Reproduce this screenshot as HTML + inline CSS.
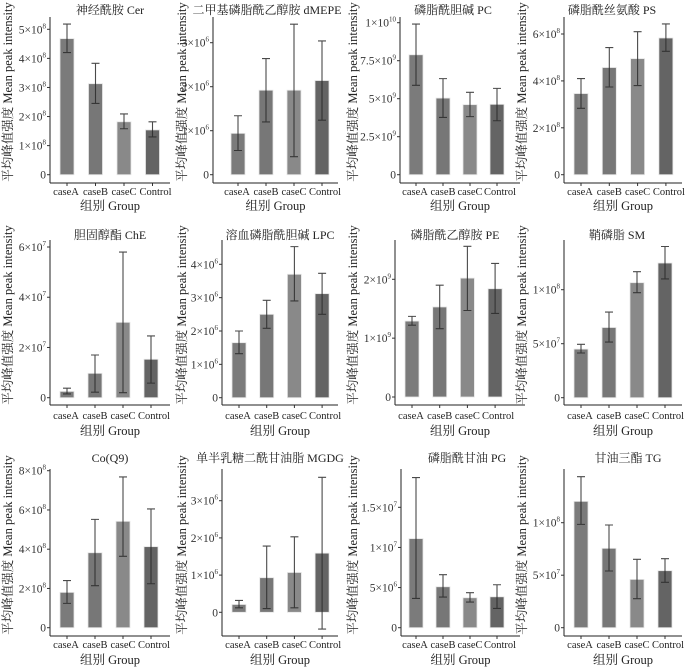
<!DOCTYPE html>
<html><head><meta charset="utf-8">
<style>
html,body{margin:0;padding:0;background:#fff;}
svg{display:block;}
svg text{font-family:"Liberation Serif","Noto Serif CJK SC","Noto Sans CJK SC",serif;}
</style></head>
<body>
<svg id="fig" width="700" height="667" viewBox="0 0 700 667" xmlns="http://www.w3.org/2000/svg"></svg>
<script>
const categories = ["caseA","caseB","caseC","Control"];
const titles = ["神经酰胺 Cer","二甲基磷脂酰乙醇胺 dMEPE","磷脂酰胆碱 PC","磷脂酰丝氨酸 PS",
 "胆固醇酯 ChE","溶血磷脂酰胆碱 LPC","磷脂酰乙醇胺 PE","鞘磷脂 SM",
 "Co(Q9)","单半乳糖二酰甘油脂 MGDG","磷脂酰甘油 PG","甘油三酯 TG"];
const meanCer=[4.68e8,3.13e8,1.82e8,1.54e8], loCer=[4.2e8,2.45e8,1.58e8,1.3e8], hiCer=[5.18e8,3.83e8,2.09e8,1.82e8];
const meanDMEPE=[0.94e6,1.92e6,1.92e6,2.14e6], loDMEPE=[0.55e6,1.2e6,0.41e6,1.24e6], hiDMEPE=[1.34e6,2.64e6,3.42e6,3.04e6];
const meanPC=[7.89e9,5.04e9,4.61e9,4.63e9], loPC=[5.88e9,3.77e9,3.82e9,3.55e9], hiPC=[9.91e9,6.32e9,5.42e9,5.68e9];
const meanPS=[3.46e8,4.57e8,4.95e8,5.83e8], loPS=[2.83e8,3.74e8,3.8e8,5.26e8], hiPS=[4.1e8,5.42e8,6.1e8,6.43e8];
const meanChE=[0.25e7,0.97e7,3.0e7,1.53e7], loChE=[0.15e7,0.22e7,0.2e7,0.58e7], hiChE=[0.38e7,1.7e7,5.8e7,2.46e7];
const meanLPC=[1.65e6,2.5e6,3.7e6,3.12e6], loLPC=[1.32e6,2.08e6,2.9e6,2.5e6], hiLPC=[2.0e6,2.92e6,4.53e6,3.73e6];
const meanPE=[1.29e9,1.53e9,2.02e9,1.84e9], loPE=[1.22e9,1.16e9,1.47e9,1.42e9], hiPE=[1.37e9,1.9e9,2.56e9,2.27e9];
const meanSM=[4.5e7,6.5e7,10.65e7,12.47e7], loSM=[4.14e7,5.15e7,9.72e7,11.0e7], hiSM=[4.94e7,7.93e7,11.67e7,14.0e7];
const meanCoQ9=[1.8e8,3.82e8,5.42e8,4.13e8], loCoQ9=[1.24e8,2.14e8,3.64e8,2.24e8], hiCoQ9=[2.4e8,5.52e8,7.68e8,6.05e8];
const meanMGDG=[0.21e6,0.93e6,1.07e6,1.59e6], loMGDG=[0.12e6,0.1e6,0.12e6,-0.45e6], hiMGDG=[0.32e6,1.78e6,2.03e6,3.63e6];
const meanPG=[11.1e6,5.1e6,3.73e6,3.85e6], loPG=[3.65e6,3.82e6,3.19e6,2.4e6], hiPG=[18.7e6,6.6e6,4.36e6,5.35e6];
const meanTG=[12.03e7,7.56e7,4.6e7,5.43e7], loTG=[9.84e7,5.4e7,2.76e7,4.32e7], hiTG=[14.38e7,9.78e7,6.51e7,6.57e7];
const ticksCer=[0,1e8,2e8,3e8,4e8,5e8], ticksDMEPE=[0,1e6,2e6,3e6], ticksPC=[0,2.5e9,5e9,7.5e9,1e10], ticksPS=[0,2e8,4e8,6e8];
const ticksChE=[0,2e7,4e7,6e7], ticksLPC=[0,1e6,2e6,3e6,4e6], ticksPE=[0,1e9,2e9], ticksSM=[0,5e7,1e8];
const ticksCoQ9=[0,2e8,4e8,6e8,8e8], ticksMGDG=[0,1e6,2e6,3e6], ticksPG=[0,5e6,1e7,1.5e7], ticksTG=[0,5e7,1e8];

const means=[meanCer,meanDMEPE,meanPC,meanPS,meanChE,meanLPC,meanPE,meanSM,meanCoQ9,meanMGDG,meanPG,meanTG];
const los=[loCer,loDMEPE,loPC,loPS,loChE,loLPC,loPE,loSM,loCoQ9,loMGDG,loPG,loTG];
const his=[hiCer,hiDMEPE,hiPC,hiPS,hiChE,hiLPC,hiPE,hiSM,hiCoQ9,hiMGDG,hiPG,hiTG];
const ticks=[ticksCer,ticksDMEPE,ticksPC,ticksPS,ticksChE,ticksLPC,ticksPE,ticksSM,ticksCoQ9,ticksMGDG,ticksPG,ticksTG];

const layout=[
 {ax:50,right:170,c0:67,sp:28.5,z:174.7,rv:5e8,rp:29.3,yt:8,tc:110},
 {ax:213,right:338,c0:238,sp:28,z:174.7,rv:3e6,rp:42.7,yt:182,tc:267},
 {ax:400,right:520,c0:416,sp:27,z:174.7,rv:1e10,rp:22.7,yt:353,tc:453},
 {ax:564,right:682,c0:581,sp:28.3,z:174.7,rv:6e8,rp:34,yt:522,tc:612},
 {ax:50,right:170,c0:67,sp:28,z:397.7,rv:6e7,rp:247,yt:8,tc:110},
 {ax:222,right:338,c0:239,sp:27.7,z:397.7,rv:4e6,rp:264.3,yt:182,tc:280},
 {ax:395,right:525,c0:412,sp:27.7,z:397,rv:2e9,rp:279.3,yt:353,tc:455},
 {ax:564,right:682,c0:581,sp:28,z:397.7,rv:1e8,rp:289.7,yt:522,tc:617},
 {ax:50,right:170,c0:67,sp:28,z:627.7,rv:8e8,rp:470.7,yt:8,tc:110},
 {ax:222,right:338,c0:239,sp:27.7,z:612.3,rv:3e6,rp:500.7,yt:182,tc:270},
 {ax:401,right:520,c0:416,sp:27,z:627.7,rv:1.5e7,rp:507.3,yt:353,tc:467},
 {ax:564,right:682,c0:581,sp:28,z:627.7,rv:1e8,rp:522.7,yt:522,tc:628}
];
const rows=[{top:17,bot:183,lab:195,xt:210,tt:14,yc:92},{top:240,bot:405,lab:419,xt:435,tt:239,yc:315},{top:469,bot:636,lab:648,xt:664,tt:462,yc:545}];
const labShift=[-1,0,0,3];
const fills=["#7b7b7b","#777777","#898989","#646464"];
const NS="http://www.w3.org/2000/svg";
const svg=document.getElementById('fig');
function mk(tag,attrs,parent){const e=document.createElementNS(NS,tag);for(const k in attrs)e.setAttribute(k,attrs[k]);(parent||svg).appendChild(e);return e;}
function fmt(v){if(v===0)return ["0",""];const e=Math.floor(Math.log10(v)+1e-9);let m=+(v/Math.pow(10,e)).toFixed(2);return [m+"×10",String(e)];}

for(let p=0;p<12;p++){
 const L=layout[p],R=rows[Math.floor(p/4)];
 const k=(L.z-L.rp)/L.rv;
 const yS=v=>L.z-v*k;
 const g=mk('g',{});
 
 
 const t=mk('text',{x:L.tc,y:R.tt,'text-anchor':'middle','font-size':12,fill:'#222'},g);
 t.textContent=titles[p];
 
 
 for(let i=0;i<4;i++){
  const cx=L.c0+i*L.sp, m=means[p][i];
  const r=mk('rect',{x:cx-7,y:Math.min(yS(m),yS(0)),width:14,height:Math.abs(yS(0)-yS(m)),fill:fills[i],stroke:'#e6e6e6','stroke-width':0.8},g);
  
  
  const eb=mk('path',{d:`M${cx-4},${yS(his[p][i])}H${cx+4}M${cx},${yS(his[p][i])}V${yS(los[p][i])}M${cx-4},${yS(los[p][i])}H${cx+4}`,stroke:'#2a2a2a','stroke-width':1.1,fill:'none','stroke-opacity':0.85},g);
  
  
  mk('line',{x1:cx,x2:cx,y1:R.bot,y2:R.bot+3,stroke:'#333'},g);
  const xl=mk('text',{x:cx+labShift[i],y:R.lab,'text-anchor':'middle','font-size':10.5,fill:'#222'},g);
  xl.textContent=categories[i];
  
  
 }
 const ya=mk('line',{x1:L.ax,x2:L.ax,y1:R.top,y2:R.bot,stroke:'#222','stroke-width':1},g);
 
 
 const xa=mk('line',{x1:L.ax,x2:L.right,y1:R.bot,y2:R.bot,stroke:'#222','stroke-width':1},g);
 
 
 for(const tv of ticks[p]){
  const y=yS(tv);
  mk('line',{x1:L.ax-3,x2:L.ax,y1:y,y2:y,stroke:'#333'},g);
  const [a,b]=fmt(tv);
  const tl=mk('text',{x:L.ax-4,y:y+4,'text-anchor':'end','font-size':11.5,fill:'#333'},g);
  
  
  const s1=mk('tspan',{},tl);s1.textContent=a;
  if(b){const s2=mk('tspan',{'font-size':7,dy:-5},tl);s2.textContent=b;}
 }
 const xt=mk('text',{x:(L.ax+L.right)/2,y:R.xt,'text-anchor':'middle','font-size':12.5,fill:'#222'},g);
 xt.textContent='组别 Group';
 
 
 const yt=mk('text',{x:0,y:0,'text-anchor':'middle','font-size':12.5,fill:'#222',transform:`translate(${L.yt+4},${R.yc}) rotate(-90)`},g);
 yt.textContent='平均峰值强度 Mean peak intensity';
 
 
}
</script>
</body></html>
